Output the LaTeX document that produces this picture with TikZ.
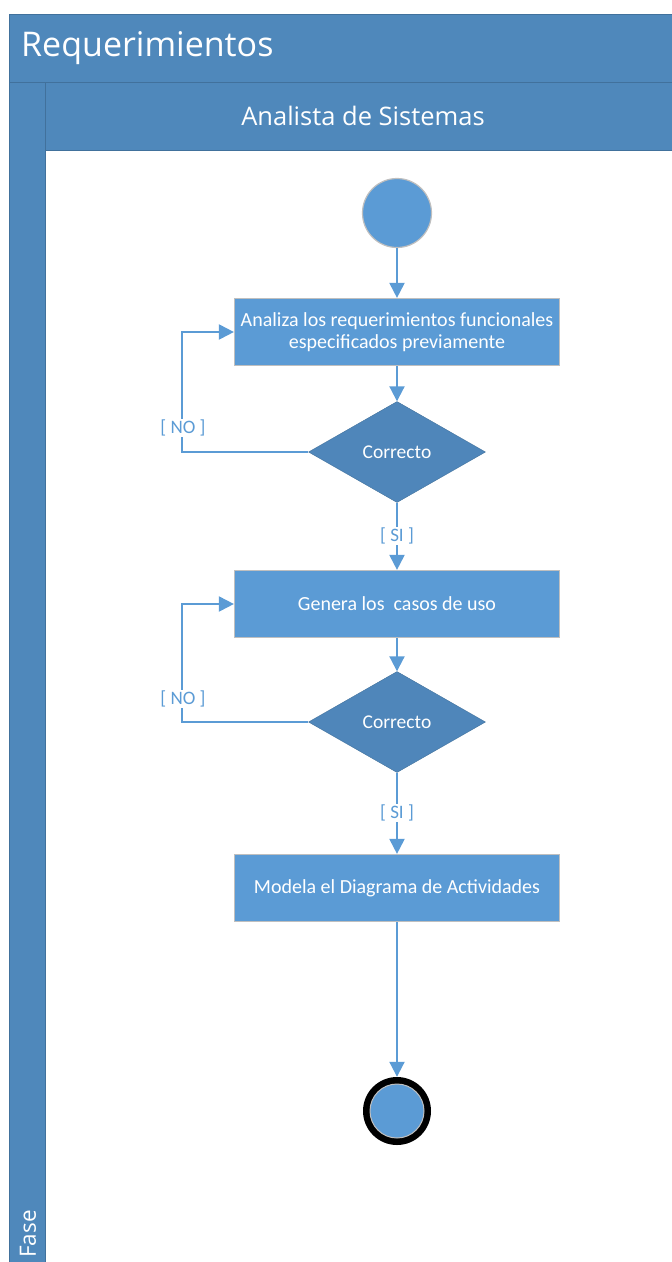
\documentclass[tikz,border=0pt]{standalone}
\usepackage{fontspec}
\setmainfont{Carlito}
\newfontfamily\headfont{Open Sans}
\usetikzlibrary{arrows.meta,shapes.geometric}
\definecolor{poolblue}{HTML}{4F88BB}
\definecolor{poolline}{HTML}{41719C}
\definecolor{actblue}{HTML}{5B9BD5}
\definecolor{decblue}{HTML}{4F86BA}
\definecolor{edgegray}{HTML}{BFBFBF}
\begin{document}
\begin{tikzpicture}[x=1pt,y=-1pt,
  poolpart/.style={fill=poolblue,draw=poolline,line width=1pt},
  activity/.style={rectangle,fill=actblue,draw=edgegray,line width=1.2pt,
    minimum width=325pt,minimum height=67pt,inner sep=0pt,text=white,
    font=\fontsize{20}{22}\selectfont,align=center},
  decision/.style={diamond,fill=decblue,draw=poolline,line width=0.4pt,
    minimum width=177pt,minimum height=101pt,inner sep=0pt,text=white,
    font=\fontsize{19.5}{22}\selectfont},
  flow/.style={draw=actblue,line width=2pt,-{Triangle[width=15pt,length=15pt]}},
  guard/.style={fill=white,text=actblue,font=\fontsize{19}{21}\selectfont,inner sep=1pt},
  headtext/.style={text=white,inner sep=0pt},
]
\useasboundingbox (0,0) rectangle (672,1262);

% pool frame: title band, phase strip, lane header
\path[poolpart] (9,14) rectangle (680,82);
\path[poolpart] (9,82) rectangle (45,1270);
\path[poolpart] (45,82) rectangle (680,150);
\node[headtext,anchor=west,font=\headfont\fontsize{34}{38}\selectfont] (pooltitle) at (21,48) {Requerimientos};
\node[headtext,font=\headfont\fontsize{25.5}{28}\selectfont] (lanetitle) at (363,116) {Analista de Sistemas};
\node[headtext,anchor=west,rotate=90,font=\headfont\fontsize{22.5}{26}\selectfont] (phase) at (28,1258) {Fase};

% activity flow
\node[circle,fill=actblue,draw=edgegray,line width=1.2pt,minimum size=69pt,inner sep=0pt] (start) at (397,213) {};
\node[activity] (a1) at (397,332) {Analiza los requerimientos funcionales\\especificados previamente};
\node[decision] (d1) at (397,452) {Correcto};
\node[activity] (a2) at (397,604) {Genera los~ casos de uso};
\node[decision] (d2) at (397,722) {Correcto};
\node[activity] (a3) at (397,888) {Modela el Diagrama de Actividades};
\node[circle,fill=black,minimum size=68pt,inner sep=0pt] (final) at (397,1111) {};
\node[circle,fill=actblue,draw=edgegray,line width=1pt,minimum size=54pt,inner sep=0pt] (finalcore) at (final.center) {};

\coordinate (back1) at (182,452);
\coordinate (back2) at (182,722);

\draw[flow] (start) -- (a1);
\draw[flow] (a1) -- (d1);
\draw[flow] (d1.west) -- (back1) |- (a1.west);
\node[guard] (no1) at (183,428) {[ NO ]};
\draw[flow] (d1.south) -- (a2.north) node[guard,midway] (si1) {[ SI ]};
\draw[flow] (a2) -- (d2);
\draw[flow] (d2.west) -- (back2) |- (a2.west);
\node[guard] (no2) at (183,699) {[ NO ]};
\draw[flow] (d2.south) -- (a3.north) node[guard,midway] (si2) {[ SI ]};
\draw[flow] (a3) -- (final);
\end{tikzpicture}
\end{document}
